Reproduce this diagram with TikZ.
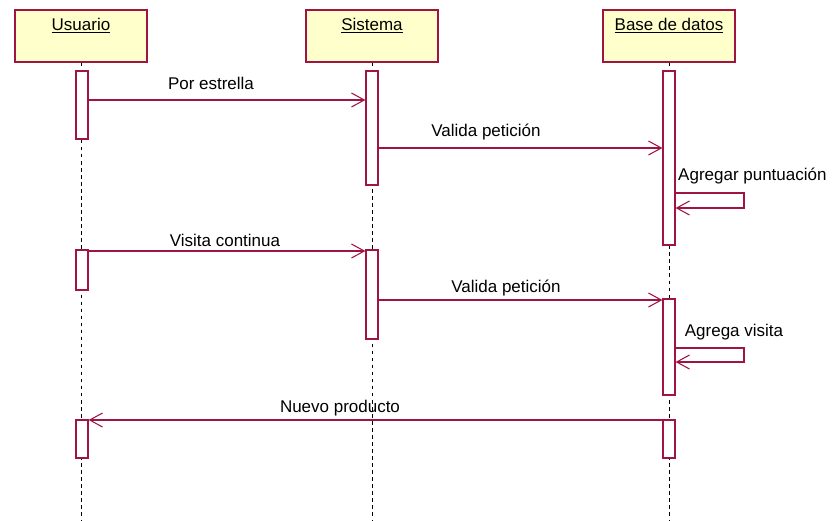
\documentclass[tikz,border=0pt]{standalone}
\usepackage{fontspec}
\setmainfont{Liberation Sans}
\usetikzlibrary{arrows.meta}
\definecolor{rosered}{RGB}{160,20,65}
\definecolor{headfill}{RGB}{255,255,204}

\begin{document}
\begin{tikzpicture}[x=0.03cm,y=-0.03cm,
  font=\fontsize{14.5pt}{17pt}\selectfont,
  head/.style={draw=rosered,fill=headfill,line width=1pt,minimum width=3.96cm,minimum height=1.56cm,inner sep=0},
  bar/.style={draw=rosered,fill=white,line width=1pt,minimum width=0.36cm,inner sep=0},
  lifeline/.style={dash pattern=on 3pt off 3pt,line width=0.8pt},
  msg/.style={draw=rosered,line width=0.9pt,-{Straight Barb[length=11pt,width=12pt]}},
  txt/.style={inner sep=0}]
                    \useasboundingbox (0,0) rectangle (834,520);
                    % heads
                    \node[head] (usr) at (81, 36) {};
                    \node[head] (sis) at (372, 36) {};
                    \node[head] (bd) at (669, 36) {};
                    \node[txt] (usrname) at (81, 26) {\underline{Usuario}};
                    \node[txt] (sisname) at (372, 26) {\underline{Sistema}};
                    \node[txt] (bdname) at (669, 26) {\underline{Base de datos}};
                    % lifelines
                    \draw[lifeline] (usr.south) -- (usr.south |- 0, 520);
                    \draw[lifeline] (sis.south) -- (sis.south |- 0, 520);
                    \draw[lifeline] (bd.south) -- (bd.south |- 0, 520);
                    % activations
                    \node[bar, minimum height=2.04cm] (u1) at (82, 105) {};
                    \node[bar, minimum height=3.42cm] (s1) at (372, 128) {};
                    \node[bar, minimum height=5.22cm] (d1) at (669, 158) {};
                    \node[bar, minimum height=1.2cm] (u2) at (82, 270) {};
                    \node[bar, minimum height=2.67cm] (s2) at (372, 294.5) {};
                    \node[bar, minimum height=2.88cm] (d2) at (669, 347) {};
                    \node[bar, minimum height=1.14cm] (u3) at (82, 439) {};
                    \node[bar, minimum height=1.14cm] (d3) at (669, 439) {};
                    % messages
                    \draw[msg] (u1.east |- 0, 100) -- (s1.west |- 0, 100);
                    \node[txt] (m1) at (211, 83) {Por estrella};
                    \draw[msg] (s1.east |- 0, 148) -- (d1.west |- 0, 148);
                    \node[txt] (m2) at (486, 132) {Valida petición};
                    \draw[msg] (d1.east |- 0, 193) -| (744, 208) -- (d1.east |- 0, 208);
                    \node[txt, anchor=west] (m3) at (678, 176) {Agregar puntuación};
                    \draw[msg] (u2.east |- 0, 251) -- (s2.west |- 0, 251);
                    \node[txt] (m4) at (225, 240) {Visita continua};
                    \draw[msg] (s2.east |- 0, 300) -- (d2.west |- 0, 300);
                    \node[txt] (m5) at (506, 288) {Valida petición};
                    \draw[msg] (d2.east |- 0, 348) -| (744, 362) -- (d2.east |- 0, 362);
                    \node[txt] (m6) at (734, 332) {Agrega visita};
                    \draw[msg] (d3.west |- 0, 420) -- (u3.east |- 0, 420);
                    \node[txt] (m7) at (340, 408) {Nuevo producto};
                \end{tikzpicture}
\end{document}
